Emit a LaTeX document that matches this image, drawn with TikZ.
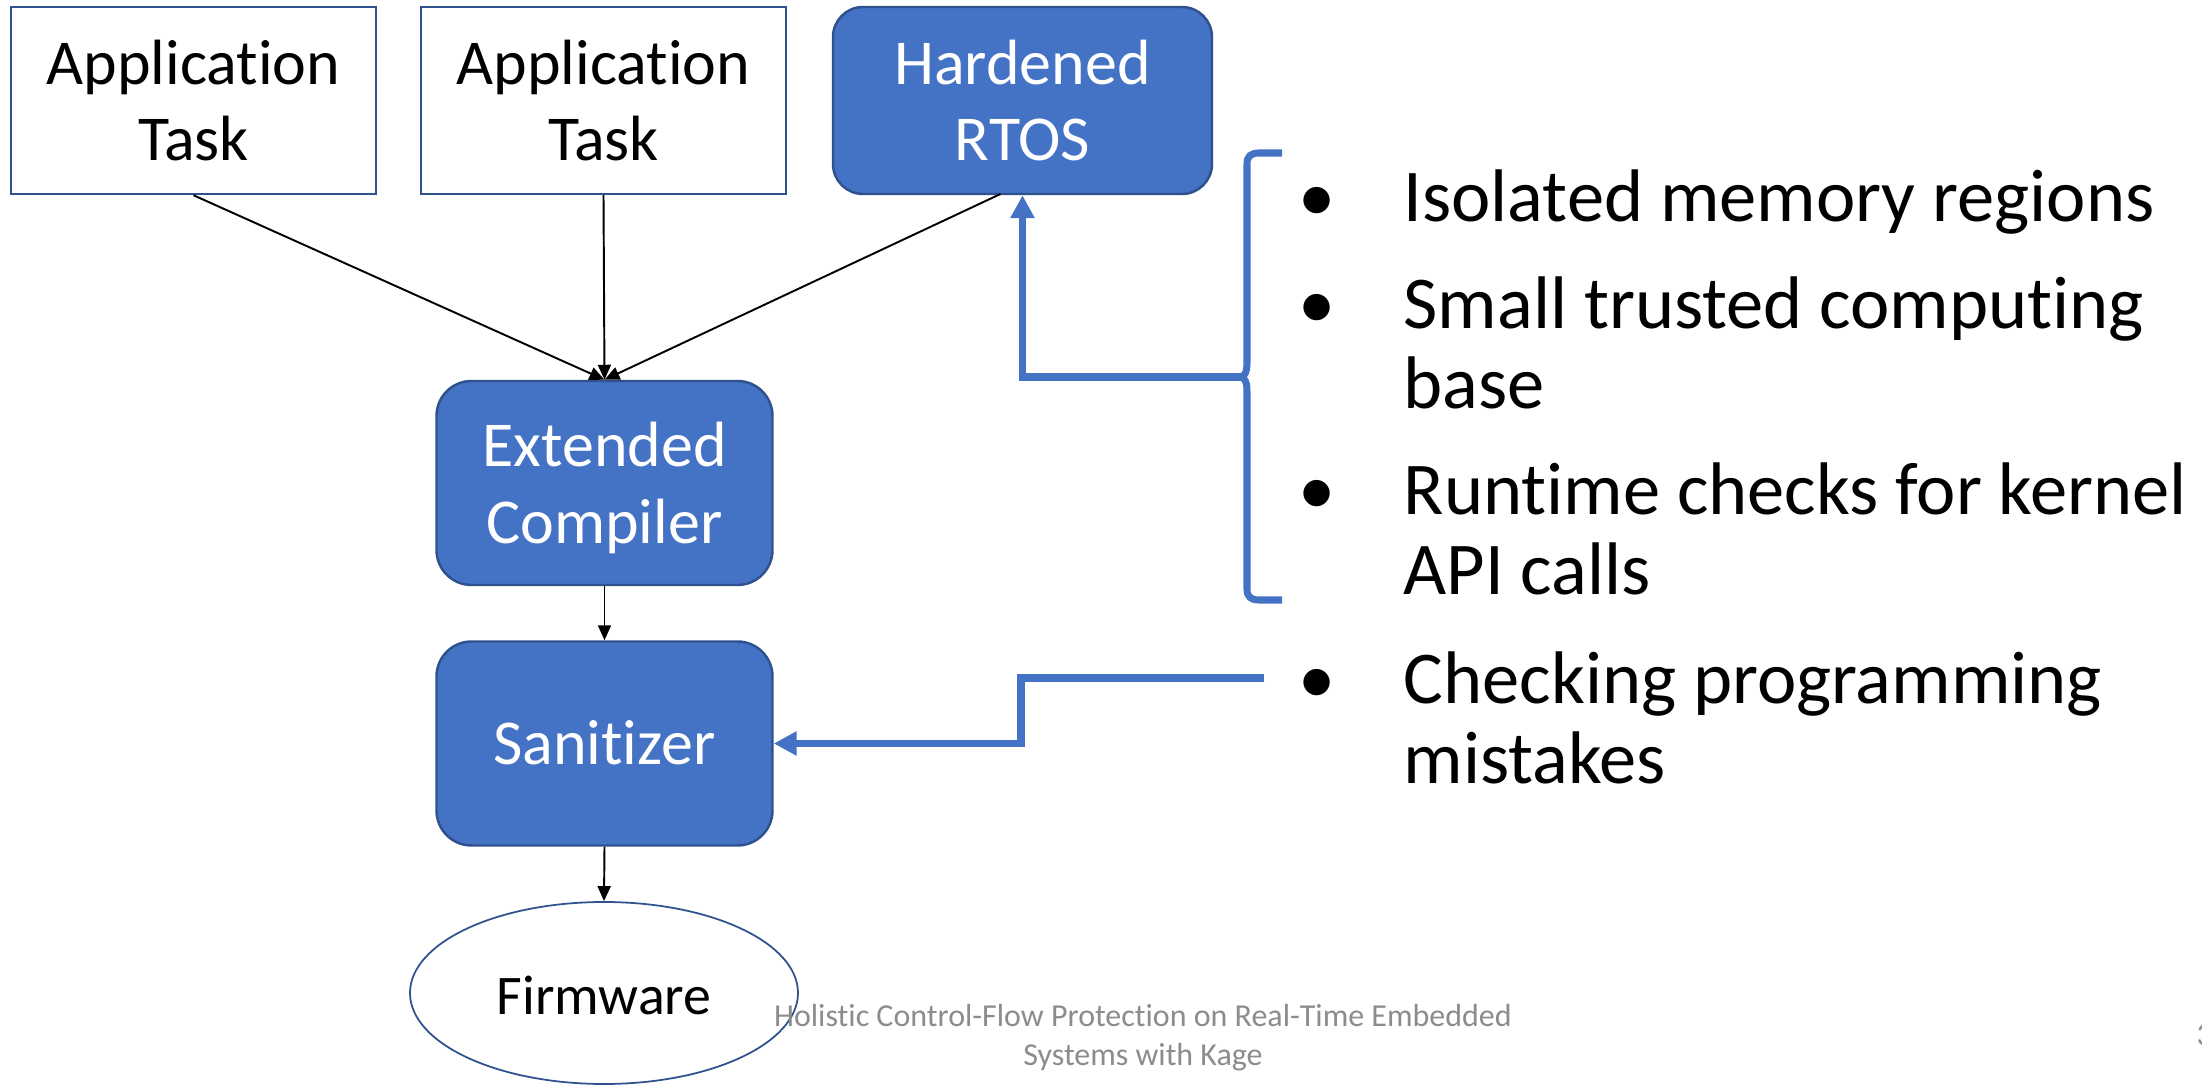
\documentclass[tikz,border=0pt]{standalone}
\usepackage{fontspec}
\setmainfont{Carlito}[Ligatures=NoCommon]
\usetikzlibrary{arrows.meta,shapes.geometric}
\definecolor{accent}{HTML}{4472C4}
\definecolor{edge}{HTML}{2F528F}
\definecolor{foot}{HTML}{8C8C8C}
\begin{document}
\begin{tikzpicture}[x=0.1mm,y=-0.1mm,
  boxtext/.style={font=\fontsize{18.2}{21.8}\selectfont, align=center, inner sep=0pt},
  plainbox/.style={boxtext, draw=edge, line width=0.7pt, fill=white, text=black,
    minimum width=36.5mm, minimum height=18.7mm},
  bluebox/.style={boxtext, draw=edge, line width=0.7pt, fill=accent, text=white,
    rounded corners=3.5mm},
  flow/.style={-{Triangle[length=1.5mm,width=1.3mm]}, line width=0.55pt, black},
  feedback/.style={-{Triangle[length=2.3mm,width=2.3mm]}, line width=2pt, accent},
  item/.style={font=\fontsize{21.2}{22.7}\selectfont, anchor=base west, inner sep=0pt},
  dot/.style={font=\fontsize{21.2}{22.7}\selectfont, anchor=base, inner sep=0pt},
  footnote/.style={font=\fontsize{9.1}{11.1}\selectfont, text=foot, inner sep=0pt},
]
\useasboundingbox (0,0) rectangle (2202,1085);
\fill[white] (0,0) rectangle (2202,1085);

% build chain
\node[plainbox] (app1) at (193.5,100.5) {Application\\Task};
\node[plainbox] (app2) at (603.5,100.5) {Application\\Task};
\node[bluebox, minimum width=37.9mm, minimum height=18.7mm, rounded corners=3mm]
  (rtos) at (1022.5,100.5) {Hardened\\RTOS};
\node[bluebox, minimum width=33.6mm, minimum height=20.4mm]
  (comp) at (604.5,483) {Extended\\\raisebox{0pt}[\height][0pt]{Compiler}};
\node[bluebox, minimum width=33.6mm, minimum height=20.4mm,
  text height=4.2mm, text depth=0pt] (san) at (604.5,743.5) {Sanitizer};
\node[ellipse, draw=edge, line width=0.5pt, fill=white, inner sep=0pt,
  font=\fontsize{15.9}{19}\selectfont,
  minimum width=38.8mm, minimum height=18.2mm,
  text height=4.4mm, text depth=0pt] (fw) at (604,993) {Firmware};

\coordinate (rtosout) at (1000.5,194);
\draw[flow] (app1.south) -- (comp.north);
\draw[flow] (app2.south) -- (comp.north);
\draw[flow] (rtosout) -- (comp.north);
\draw[flow] (comp.south) -- (san.north);
\draw[flow] (san.south) -- (fw.north);

% brace grouping the kernel properties
\coordinate (tip) at (1241,377);
\draw[accent, line width=2pt, line join=round]
  (1282,153) -- (1259,153) .. controls (1251,153) and (1247,156) .. (1247,164)
  -- (1247,362) .. controls (1247,372) and (1245,376) .. (tip)
  .. controls (1245,378) and (1247,382) .. (1247,392)
  -- (1247,589) .. controls (1247,597) and (1251,600) .. (1259,600) -- (1282,600);
\draw[feedback] (tip) -| (rtos.south);

\coordinate (chk) at (1264,678);
\draw[feedback] (chk) -- (1021,678) |- (san.east);

% property list
\node[dot] (b1) at (1317,222) {•};
\node[item] (t1) at (1403,222) {Isolated memory regions};
\node[dot] (b2) at (1317,329) {•};
\node[item] (t2) at (1403,329) {\begin{tabular}[t]{@{}l@{}}Small trusted computing\\base\end{tabular}};
\node[dot] (b3) at (1317,515) {•};
\node[item] (t3) at (1403,515) {\begin{tabular}[t]{@{}l@{}}Runtime checks for kernel\\API calls\end{tabular}};
\node[dot] (b4) at (1317,703.6) {•};
\node[item] (t4) at (1403,703.6) {\begin{tabular}[t]{@{}l@{}}Checking programming\\mistakes\end{tabular}};

% footer
\node[footnote, anchor=base] (title) at (1143,1026)
  {\begin{tabular}[t]{@{}c@{}}Holistic Control-Flow Protection on Real-Time Embedded\\Systems with Kage\end{tabular}};
\node[footnote, anchor=base west] (page) at (2196,1045) {3};
\end{tikzpicture}
\end{document}
